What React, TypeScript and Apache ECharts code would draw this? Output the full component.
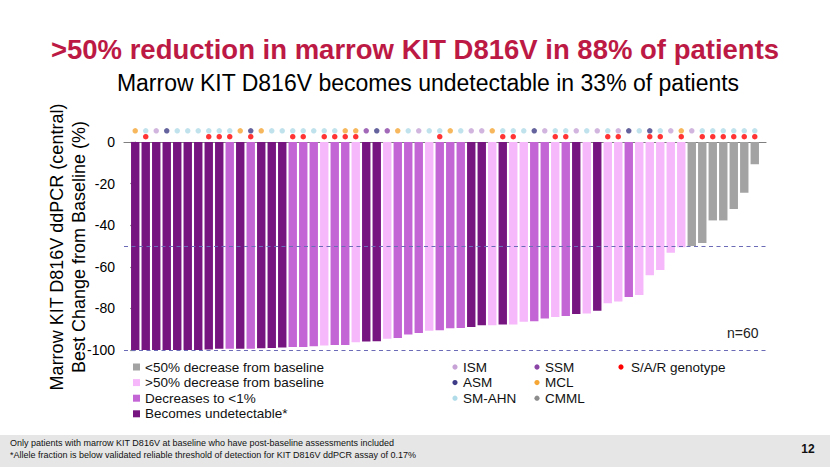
import React, { useEffect, useRef } from "react";
import * as echarts from "echarts";

// Best change from baseline (%) per patient, ordered as in the waterfall
const changes = [
  -100, -100, -100, -100, -100, -100, -100, -99.7, -99.4, -99.4,
  -99.4, -99.4, -99.2, -99.0, -98.8, -98.6, -98.6, -98.2, -97.8, -97.6,
  -97.6, -96.3, -95.9, -95.8, -94.6, -94.2, -92.5, -91.8, -90.7, -90.5,
  -89.6, -89.4, -88.9, -88.1, -88.1, -87.8, -87.7, -86.4, -86.2, -84.8,
  -84.1, -83.7, -82.7, -82.5, -81.1, -77.5, -76.7, -74.5, -73.6, -64.1,
  -61.5, -53.2, -50.6, -50.0, -48.6, -37.7, -37.7, -32.2, -24.4, -10.7,
];

// U = becomes undetectable, L = decreases to <1%, P = >50% decrease, G = <50% decrease
const responses = [
  "U", "U", "U", "U", "U", "U", "U", "U", "U", "L",
  "U", "L", "U", "U", "U", "L", "L", "L", "P", "L",
  "L", "P", "U", "U", "P", "L", "L", "L", "P", "L",
  "L", "L", "U", "U", "P", "U", "P", "P", "L", "L",
  "P", "L", "U", "P", "U", "P", "P", "L", "P", "P",
  "P", "P", "P", "G", "G", "G", "G", "G", "G", "G",
];

const subtypes = [
  "MCL", "SM-AHN", "ISM", "ASM", "SM-AHN", "SM-AHN", "SM-AHN", "SM-AHN", "SM-AHN", "SM-AHN",
  "MCL", "ASM", "MCL", "SM-AHN", "SM-AHN", "SM-AHN", "SM-AHN", "SM-AHN", "SM-AHN", "SM-AHN",
  "MCL", "MCL", "SSM", "ASM", "SSM", "MCL", "SM-AHN", "ISM", "SM-AHN", "SM-AHN",
  "MCL", "SM-AHN", "ISM", "ISM", "MCL", "SM-AHN", "SM-AHN", "SM-AHN", "ASM", "ISM",
  "SM-AHN", "SM-AHN", "ISM", "SM-AHN", "ISM", "SM-AHN", "ISM", "ASM", "SM-AHN", "ASM",
  "SM-AHN", "ISM", "MCL", "ISM", "SM-AHN", "SM-AHN", "SM-AHN", "SM-AHN", "SM-AHN", "SM-AHN",
];

// Patients (1-based position) with S/A/R genotype
const sarPatients = [2, 8, 9, 10, 12, 16, 17, 19, 20, 21, 22, 30, 36, 37, 41, 42, 46, 47, 50, 51, 53, 55, 56, 57, 58, 59, 60];

const responseLegend = [
  { key: "G", label: "<50% decrease from baseline" },
  { key: "P", label: ">50% decrease from baseline" },
  { key: "L", label: "Decreases to <1%" },
  { key: "U", label: "Becomes undetectable*" },
];

const subtypeLegend = [
  ["ISM", "ASM", "SM-AHN"],
  ["SSM", "MCL", "CMML"],
  ["S/A/R genotype"],
];

const yTicks = [0, -20, -40, -60, -80, -100];

const responseColors: Record<string, string> = {
  U: "#761480",
  L: "#c465d5",
  P: "#f6b8fa",
  G: "#a3a3a3",
};

const dotColors: Record<string, string> = {
  ISM: "#c6a2d6",
  ASM: "#3e3c86",
  "SM-AHN": "#b0dbe8",
  SSM: "#8a44a6",
  MCL: "#f5a634",
  CMML: "#8c8c8c",
  "S/A/R genotype": "#ff0000",
};

const FONT = "'Liberation Sans', Arial, Helvetica, sans-serif";

export default function App() {
  const ref = useRef<HTMLDivElement>(null);

  useEffect(() => {
    document.body.style.margin = "0";
    const chart = echarts.init(ref.current!, undefined, { renderer: "svg" });

    const legendGraphics: any[] = [];
    responseLegend.forEach((r, i) => {
      const y = 367 + i * 15.6;
      legendGraphics.push({
        type: "rect",
        shape: { x: 133, y: y - 3.5, width: 7, height: 7 },
        style: { fill: responseColors[r.key] },
      });
      legendGraphics.push({
        type: "text",
        x: 145,
        y,
        style: { text: r.label, font: `13.5px ${FONT}`, fill: "#111", textVerticalAlign: "middle" },
      });
    });
    const colX = [455, 537, 621];
    subtypeLegend.forEach((col, c) => {
      col.forEach((name, r) => {
        const y = 367 + r * 15.6;
        legendGraphics.push({
          type: "circle",
          shape: { cx: colX[c], cy: y, r: 2.6 },
          style: { fill: dotColors[name] },
        });
        legendGraphics.push({
          type: "text",
          x: colX[c] + (c === 2 ? 10 : 8),
          y,
          style: { text: name, font: `13.5px ${FONT}`, fill: "#111", textVerticalAlign: "middle" },
        });
      });
    });

    const option: any = {
      animation: false,
      backgroundColor: "#ffffff",
      grid: { left: 124, top: 142, width: 642, height: 208 },
      xAxis: {
        type: "value",
        min: -1.07,
        max: 60.07,
        position: "top",
        axisLine: { show: true, onZero: false, lineStyle: { color: "#7f7f7f", width: 1.2 } },
        axisTick: { show: false },
        axisLabel: { show: false },
        splitLine: { show: false },
      },
      yAxis: {
        type: "value",
        min: yTicks[yTicks.length - 1],
        max: yTicks[0],
        interval: 20,
        axisLine: { show: true, lineStyle: { color: "#7f7f7f", width: 1.2 } },
        axisTick: { show: true, length: 5, lineStyle: { color: "#7f7f7f", width: 1.2 } },
        axisLabel: { color: "#000", fontSize: 14, fontFamily: FONT, margin: 9 },
        splitLine: { show: false },
      },
      series: [
        {
          type: "bar",
          barWidth: 8.4,
          data: changes.map((v, i) => ({
            value: [i, v],
            itemStyle: { color: responseColors[responses[i]] },
          })),
          markLine: {
            silent: true,
            symbol: "none",
            label: { show: false },
            lineStyle: { type: [4, 3.5], color: "#6b6bb8", width: 1.1 },
            data: [{ yAxis: -50 }, { yAxis: -100 }],
          },
        },
        {
          type: "scatter",
          clip: false,
          symbolSize: 5.5,
          data: subtypes.map((s, i) => ({
            value: [i, 5.4],
            itemStyle: { color: dotColors[s] },
          })),
        },
        {
          type: "scatter",
          clip: false,
          symbolSize: 5.5,
          itemStyle: { color: dotColors["S/A/R genotype"] },
          data: sarPatients.map((p) => [p - 1, 2.55]),
        },
      ],
      graphic: [
        {
          type: "text",
          x: 415,
          y: 49,
          style: {
            text: ">50% reduction in marrow KIT D816V in 88% of patients",
            font: `bold 27.5px ${FONT}`,
            fill: "#bc1a45",
            textAlign: "center",
            textVerticalAlign: "middle",
          },
        },
        {
          type: "text",
          x: 428,
          y: 83,
          style: {
            text: "Marrow KIT D816V becomes undetectable in 33% of patients",
            font: `23px ${FONT}`,
            fill: "#000",
            textAlign: "center",
            textVerticalAlign: "middle",
          },
        },
        {
          type: "text",
          x: 57,
          y: 247,
          rotation: Math.PI / 2,
          style: {
            text: "Marrow KIT D816V ddPCR (central)",
            font: `18px ${FONT}`,
            fill: "#000",
            textAlign: "center",
            textVerticalAlign: "middle",
          },
        },
        {
          type: "text",
          x: 79,
          y: 247,
          rotation: Math.PI / 2,
          style: {
            text: "Best Change from Baseline (%)",
            font: `18px ${FONT}`,
            fill: "#000",
            textAlign: "center",
            textVerticalAlign: "middle",
          },
        },
        {
          type: "text",
          x: 727,
          y: 333,
          style: { text: "n=60", font: `14px ${FONT}`, fill: "#222", textVerticalAlign: "middle" },
        },
        ...legendGraphics,
        {
          type: "rect",
          shape: { x: 0, y: 435, width: 830, height: 32 },
          style: { fill: "#e6e6e6" },
        },
        {
          type: "text",
          x: 10,
          y: 443,
          style: {
            text: "Only patients with marrow KIT D816V at baseline who have post-baseline assessments included",
            font: `9px ${FONT}`,
            fill: "#111",
            textVerticalAlign: "middle",
          },
        },
        {
          type: "text",
          x: 10,
          y: 455,
          style: {
            text: "*Allele fraction is below validated reliable threshold of detection for KIT D816V ddPCR assay of 0.17%",
            font: `9px ${FONT}`,
            fill: "#111",
            textVerticalAlign: "middle",
          },
        },
        {
          type: "text",
          x: 808,
          y: 449,
          style: {
            text: "12",
            font: `bold 12px ${FONT}`,
            fill: "#111",
            textAlign: "center",
            textVerticalAlign: "middle",
          },
        },
      ],
    };

    chart.setOption(option);
    return () => chart.dispose();
  }, []);

  return (
    <div
      ref={ref}
      style={{ position: "absolute", left: 0, top: 0, width: 830, height: 467 }}
    />
  );
}
